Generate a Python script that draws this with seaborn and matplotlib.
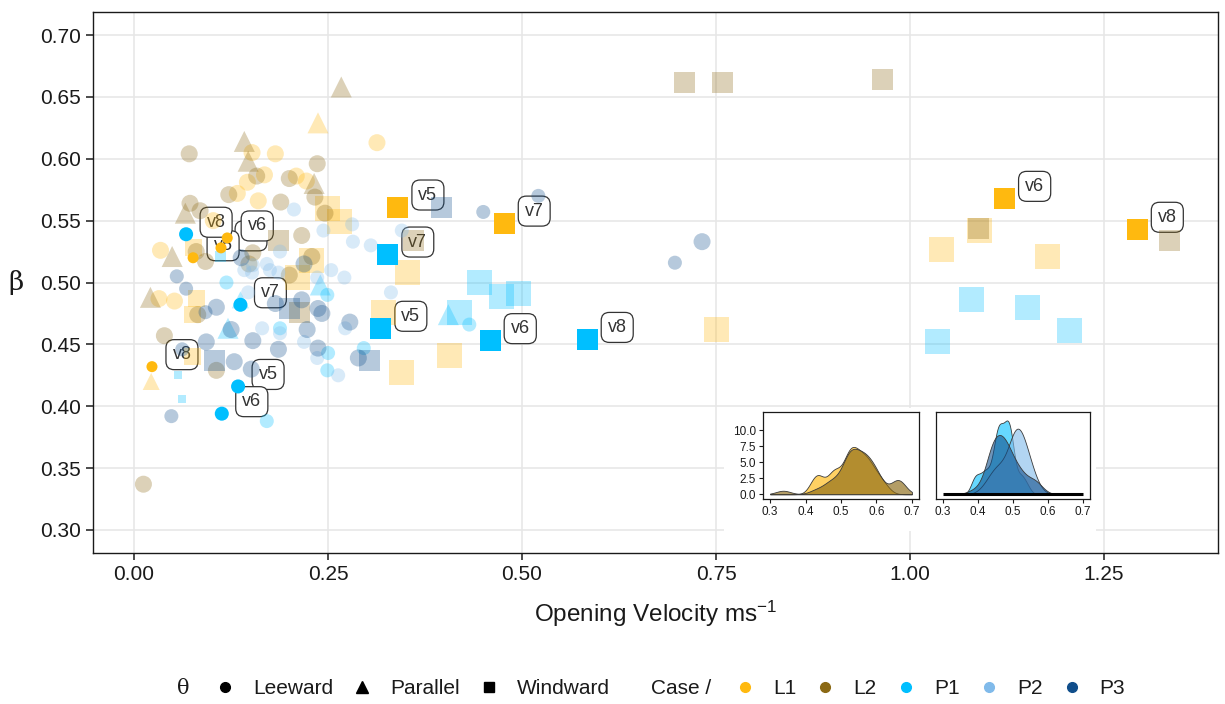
import numpy as np
import pandas as pd
import matplotlib
matplotlib.use("Agg")
import matplotlib.pyplot as plt
import seaborn as sns
from matplotlib.lines import Line2D
from matplotlib.patches import Rectangle
from matplotlib.colors import to_rgba

# ---------------- data ----------------
case_colors = {"L1": "#FFB90F", "L2": "#8B6914", "P1": "#00BFFF", "P2": "#80BAEA", "P3": "#104E8B"}
theta_names = {"L": "Leeward", "P": "Parallel", "W": "Windward"}

# faded points, per case (theta code: L=Leeward, P=Parallel, W=Windward)
L1_vel = [0.152, 0.182, 0.313, 0.146, 0.168, 0.209, 0.222, 0.133, 0.160, 0.034, 0.032, 0.052, 0.102,
          0.237, 0.022,
          0.249, 0.265, 0.228, 0.210, 0.352, 0.322, 0.345, 0.406, 0.076, 0.081, 0.075, 0.075,
          0.750, 1.040, 1.090, 1.177]
L1_beta = [0.605, 0.604, 0.613, 0.581, 0.587, 0.586, 0.582, 0.572, 0.566, 0.526, 0.487, 0.485, 0.550,
           0.629, 0.420,
           0.560, 0.549, 0.518, 0.504, 0.508, 0.476, 0.427, 0.441, 0.528, 0.487, 0.474, 0.440,
           0.462, 0.527, 0.542, 0.521]
L1_theta = "LLLLLLLLLLLLLPPWWWWWWWWWWWWWWWW"
L1_mag = [4, 4, 4, 4, 4, 4, 4, 4, 4, 4, 4, 4, 4,
          5, 4,
          6, 6, 6, 6, 6, 6, 6, 6, 4, 4, 4, 4,
          6, 6, 6, 6]

L2_vel = [0.071, 0.236, 0.158, 0.200, 0.122, 0.189, 0.233, 0.246, 0.072, 0.085, 0.216, 0.080, 0.092,
          0.153, 0.148, 0.229, 0.200, 0.082, 0.039, 0.106, 0.012,
          0.267, 0.142, 0.147, 0.232, 0.066, 0.049, 0.021,
          0.710, 0.758, 0.965, 1.088, 1.334, 0.360, 0.186, 0.213]
L2_beta = [0.604, 0.596, 0.586, 0.584, 0.571, 0.565, 0.569, 0.556, 0.564, 0.558, 0.538, 0.525, 0.517,
           0.524, 0.515, 0.521, 0.506, 0.474, 0.457, 0.429, 0.337,
           0.658, 0.614, 0.598, 0.580, 0.556, 0.521, 0.488,
           0.662, 0.662, 0.664, 0.544, 0.534, 0.534, 0.534, 0.476]
L2_theta = "LLLLLLLLLLLLLLLLLLLLLPPPPPPPWWWWWWWW"
L2_mag = [4] * 21 + [5] * 7 + [5] * 8

P1_vel = [0.119, 0.249, 0.188, 0.250, 0.249, 0.296, 0.432, 0.171,
          0.137, 0.240, 0.121, 0.405,
          0.111, 0.057, 0.062, 0.445, 0.474, 0.495, 0.420, 1.079, 1.152, 1.205, 1.036]
P1_beta = [0.500, 0.490, 0.463, 0.443, 0.429, 0.447, 0.466, 0.388,
           0.486, 0.498, 0.463, 0.474,
           0.521, 0.425, 0.406, 0.500, 0.489, 0.491, 0.476, 0.486, 0.480, 0.461, 0.452]
P1_theta = "LLLLLLLLPPPPWWWWWWWWWWW"
P1_mag = [3, 3, 3, 3, 3, 3, 3, 3,
          4, 5, 5, 5,
          2, 1, 1, 6, 6, 6, 6, 6, 6, 6, 6]

P2_vel = [0.206, 0.281, 0.244, 0.282, 0.305, 0.345, 0.271, 0.254, 0.331, 0.188, 0.171, 0.142,
          0.152, 0.186, 0.236, 0.153, 0.175, 0.147, 0.272, 0.165, 0.219, 0.236, 0.263, 0.188]
P2_beta = [0.559, 0.547, 0.542, 0.533, 0.530, 0.542, 0.504, 0.510, 0.492, 0.525, 0.515, 0.510,
           0.508, 0.508, 0.504, 0.514, 0.510, 0.492, 0.463, 0.463, 0.452, 0.439, 0.425, 0.459]
P2_theta = "LLLLLLLLLLLLLLLLLLLLLLLL"
P2_mag = [3, 3, 3, 3, 3, 3, 3, 3, 3, 3, 3, 3, 3, 3, 3, 3, 3, 3, 3, 3, 3, 3, 3, 3]

P3_vel = [0.450, 0.521, 0.732, 0.697, 0.138, 0.219, 0.055, 0.067, 0.092, 0.106, 0.182, 0.216, 0.237,
          0.242, 0.278, 0.125, 0.153, 0.223, 0.186, 0.237, 0.289, 0.093, 0.062, 0.129, 0.151, 0.048,
          0.396, 0.304, 0.104, 0.200]
P3_beta = [0.557, 0.570, 0.533, 0.516, 0.520, 0.515, 0.505, 0.495, 0.476, 0.480, 0.483, 0.486, 0.479,
           0.475, 0.468, 0.462, 0.453, 0.462, 0.446, 0.447, 0.439, 0.452, 0.446, 0.436, 0.430, 0.392,
           0.561, 0.437, 0.437, 0.479]
P3_theta = "LLLLLLLLLLLLLLLLLLLLLLLLLLWWWW"
P3_mag = [3, 3, 4, 3, 4, 4, 3, 3, 3, 4, 4, 4, 4, 4, 4, 4, 4, 4, 4, 4, 4, 4, 3, 4, 4, 3,
          5, 5, 5, 5]

# highlighted (labelled) runs
hl_case = ["L1", "L1", "L1", "L1", "L1", "L1", "L1", "L1", "P1", "P1", "P1", "P1", "P1", "P1", "P1", "P1"]
hl_theta = "WWWWLLLLLLLLWWWW"
hl_vel = [0.340, 0.477, 1.122, 1.293, 0.112, 0.023, 0.120, 0.076,
          0.067, 0.137, 0.134, 0.113, 0.327, 0.318, 0.459, 0.584]
hl_beta = [0.561, 0.548, 0.568, 0.543, 0.528, 0.432, 0.536, 0.520,
           0.539, 0.482, 0.416, 0.394, 0.523, 0.463, 0.453, 0.454]
hl_label = ["v5", "v7", "v6", "v8", "v7", "v8", "v6", "v5",
            "v8", "v7", "v5", "v6", "v7", "v5", "v6", "v8"]
hl_mag = [5, 5, 5, 5, 2, 2, 2, 2, 3, 3, 3, 3, 5, 5, 5, 5]

x_ticks = [0.00, 0.25, 0.50, 0.75, 1.00, 1.25]
y_ticks = [0.30, 0.35, 0.40, 0.45, 0.50, 0.55, 0.60, 0.65, 0.70]
inset_x_ticks = [0.3, 0.4, 0.5, 0.6, 0.7]
inset_y_ticks = [0.0, 2.5, 5.0, 7.5, 10.0]

# ---------------- tables ----------------
def make(case, vel, beta, theta, mag):
    return pd.DataFrame({"case": case, "vel": vel, "beta": beta,
                         "theta": [theta_names[t] for t in theta], "mag": mag})

faded = pd.concat([make("L1", L1_vel, L1_beta, L1_theta, L1_mag),
                   make("L2", L2_vel, L2_beta, L2_theta, L2_mag),
                   make("P1", P1_vel, P1_beta, P1_theta, P1_mag),
                   make("P2", P2_vel, P2_beta, P2_theta, P2_mag),
                   make("P3", P3_vel, P3_beta, P3_theta, P3_mag)], ignore_index=True)
hl = pd.DataFrame({"case": hl_case, "vel": hl_vel, "beta": hl_beta,
                   "theta": [theta_names[t] for t in hl_theta], "mag": hl_mag, "label": hl_label})
alldata = pd.concat([faded, hl.drop(columns="label")], ignore_index=True)

# ---------------- style ----------------
sns.set_theme(style="white")
plt.rcParams["font.family"] = ["Liberation Sans", "DejaVu Sans"]
plt.rcParams["mathtext.default"] = "regular"

W, H = 1225, 704
fig = plt.figure(figsize=(W / 100, H / 100), dpi=100)
ax = fig.add_axes([93 / W, 1 - 553 / H, (1218 - 93) / W, (553 - 12) / H])
ax.set_zorder(0)

markers = {"Leeward": "o", "Parallel": "^", "Windward": "s"}
size_map = {1: 33, 2: 63, 3: 102, 4: 150, 5: 229, 6: 324, 7: 436}

ax.set_xlim(-0.053, 1.397)
ax.set_ylim(0.2814, 0.7186)
ax.set_xticks(x_ticks)
ax.set_yticks(y_ticks)
ax.set_xticklabels([f"{t:.2f}" for t in x_ticks])
ax.set_yticklabels([f"{t:.2f}" for t in y_ticks])
ax.grid(True, color="#E6E6E6", linewidth=1.1, zorder=0)
ax.set_axisbelow(True)
for s in ax.spines.values():
    s.set_color("#1a1a1a")
    s.set_linewidth(1.0)
ax.tick_params(axis="both", which="major", direction="out", length=5, width=1.1,
               color="#1a1a1a", labelsize=15, labelcolor="#1a1a1a", bottom=True, left=True)

# labels (under the points, as in the reference)
for _, r in hl.iterrows():
    ax.annotate(r["label"], (r["vel"], r["beta"]), xytext=(30, 12), textcoords="offset pixels",
                ha="center", va="center", fontsize=13, color="#333333", zorder=2.5,
                bbox=dict(boxstyle="round,pad=0.36,rounding_size=0.45", fc="white",
                          ec="#333333", lw=0.9))

sns.scatterplot(data=faded, x="vel", y="beta", hue="case", palette=case_colors,
                style="theta", markers=markers, size="mag", sizes=size_map,
                alpha=0.3, linewidth=0, legend=False, ax=ax, zorder=3)
sns.scatterplot(data=hl, x="vel", y="beta", hue="case", palette=case_colors,
                style="theta", markers=markers, size="mag", sizes=size_map,
                alpha=1.0, linewidth=0, legend=False, ax=ax, zorder=4)

ax.set_xlabel("Opening Velocity ms$^{-1}$", fontsize=17.5, color="#1a1a1a", labelpad=11)
ax.set_ylabel("")
fig.text(16 / W, 1 - 282 / H, "β", family=["DejaVu Serif"], fontsize=19,
         ha="center", va="center", color="#1a1a1a")

# ---------------- insets ----------------
bg = Rectangle((724 / W, 1 - 531 / H), (1096 - 724) / W, (531 - 408) / H,
               transform=fig.transFigure, facecolor="white", edgecolor="none", zorder=1)
fig.add_artist(bg)

axL = fig.add_axes([763 / W, 1 - 499 / H, (919 - 763) / W, (499 - 412) / H])
axR = fig.add_axes([936 / W, 1 - 499 / H, (1090 - 936) / W, (499 - 412) / H])
bw = {"L1": 0.62, "L2": 0.62, "P1": 0.62, "P2": 1.2, "P3": 1.0}
for case, a, al in [("L1", axL, 0.65), ("L2", axL, 0.65),
                    ("P1", axR, 0.6), ("P2", axR, 0.6), ("P3", axR, 0.6)]:
    sub = alldata[alldata["case"] == case]
    sns.kdeplot(data=sub, x="beta", ax=a, fill=True, bw_adjust=bw[case],
                cut=10 if case.startswith("L") else 3, clip=(0.3, 0.7),
                facecolor=to_rgba(case_colors[case], al), edgecolor="#3a3a3a", linewidth=0.6)
axR.hlines(0, 0.3, 0.7, color="black", linewidth=2.2, zorder=5)
for a in (axL, axR):
    a.set_zorder(2)
    a.set_facecolor("white")
    a.set_xlim(0.28, 0.72)
    a.set_ylim(-0.75, 12.9)
    a.set_xticks(inset_x_ticks)
    a.set_xticklabels([f"{t:.1f}" for t in inset_x_ticks])
    a.set_yticks(inset_y_ticks)
    a.set_yticklabels([f"{t:.1f}" for t in inset_y_ticks])
    a.grid(False)
    for s in a.spines.values():
        s.set_color("#1a1a1a")
        s.set_linewidth(0.9)
    a.tick_params(direction="out", length=3, width=0.8, labelsize=8.5, pad=2,
                  color="#1a1a1a", labelcolor="#1a1a1a", bottom=True, left=True)
    a.set_xlabel("")
    a.set_ylabel("")
axR.tick_params(axis="y", left=False, labelleft=False)

# ---------------- legend ----------------
ly = 1 - 689 / H
fig.text(183 / W, ly, "θ", family=["DejaVu Serif"], fontsize=15, ha="center", va="center",
         color="#1a1a1a")
fig.text(651 / W, ly, "Case /", fontsize=15, ha="left", va="center", color="#1a1a1a")

shape_handles = [Line2D([], [], linestyle="", marker="o", color="black", markersize=7),
                 Line2D([], [], linestyle="", marker="^", color="black", markersize=8),
                 Line2D([], [], linestyle="", marker="s", color="black", markersize=7)]
shape_labels = ["Leeward", "Parallel", "Windward"]
case_handles = [Line2D([], [], linestyle="", marker="o", color=case_colors[c], markersize=7)
                for c in ["L1", "L2", "P1", "P2", "P3"]]
case_labels = ["L1", "L2", "P1", "P2", "P3"]
common = dict(loc="center left", frameon=False, fontsize=15, handlelength=0.8,
              handletextpad=0.95, columnspacing=1.0, borderpad=0, borderaxespad=0)
leg1 = fig.legend(shape_handles, shape_labels, ncol=3,
                  bbox_to_anchor=(216.5 / W, ly), **common)
leg2 = fig.legend(case_handles, case_labels, ncol=5,
                  bbox_to_anchor=(736.5 / W, ly), **common)
for lg in (leg1, leg2):
    for t in lg.get_texts():
        t.set_color("#1a1a1a")

fig.savefig("out.png", dpi=100)
